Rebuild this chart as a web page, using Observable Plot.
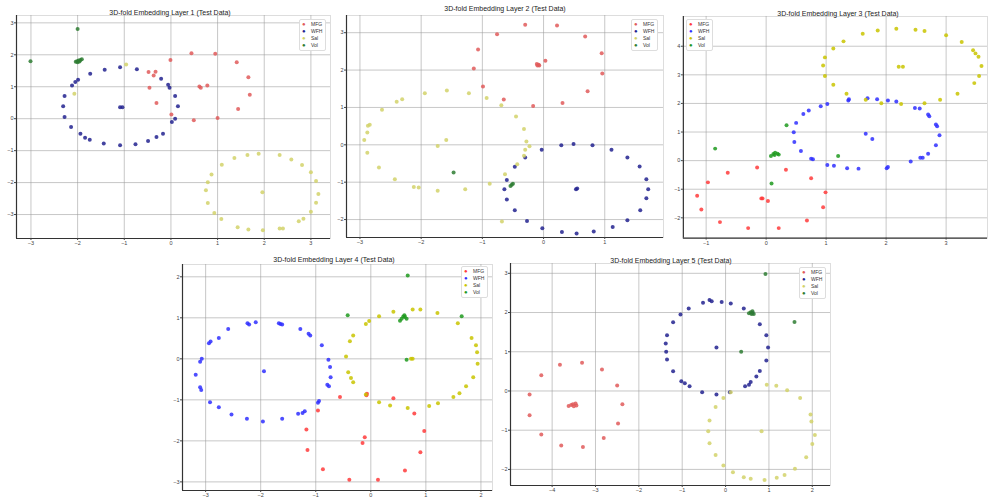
<!DOCTYPE html>
<html><head><meta charset="utf-8">
<script src="https://cdn.jsdelivr.net/npm/d3@7"></script>
<script src="https://cdn.jsdelivr.net/npm/@observablehq/plot@0.6"></script>
<style>
body{margin:0;background:#fff;width:989px;height:498px;overflow:hidden;position:relative;font-family:"Liberation Sans",Arial,sans-serif}
.panel{position:absolute}
.title{position:absolute;font-size:7px;color:#222;white-space:nowrap;transform:translate(-50%,-50%)}
.legend{position:absolute;background:#fff;border:1px solid #ddd;border-radius:2px;font-size:5px;padding:1px 3px 1px 2px;line-height:7px;color:#333}
.legend span{display:inline-block;width:9px;font-size:6px}
</style></head><body>
<script>
const classes = ["MFG","WFH","Sal","Vol"];
const titles = [
  "3D-fold Embedding Layer 1 (Test Data)",
  "3D-fold Embedding Layer 2 (Test Data)",
  "3D-fold Embedding Layer 3 (Test Data)",
  "3D-fold Embedding Layer 4 (Test Data)",
  "3D-fold Embedding Layer 5 (Test Data)"
];

// Panel 1
const p1Red = [[-0.01,1.84],[0.44,2.05],[0.95,2.03],[1.41,1.77],[1.66,1.30],[1.69,0.75],[1.44,0.30],[1.00,0.02],[0.49,-0.05],[-0.31,0.49],[-0.46,0.97],[0.61,1.01],[0.64,0.97],[0.78,1.04],[0.01,0.13],[-0.48,1.46],[-0.37,1.35],[-0.33,1.47]];
const p1Blue = [[-2.12,1.04],[-2.05,1.15],[-1.99,1.22],[-1.73,1.41],[-1.42,1.53],[-1.09,1.61],[-0.73,1.55],[-0.21,1.25],[-0.06,1.06],[-0.03,0.97],[0.09,0.71],[0.15,0.39],[0.09,0.0],[0.02,-0.10],[-0.17,-0.47],[-0.31,-0.57],[-0.49,-0.70],[-0.76,-0.80],[-1.09,-0.83],[-1.44,-0.78],[-1.74,-0.66],[-1.84,-0.60],[-1.94,-0.47],[-2.14,-0.26],[-2.28,0.05],[-2.31,0.39],[-2.28,0.71],[-1.09,0.36],[-1.04,0.36]];
const p1Yellow = [[-0.96,1.70],[-2.07,0.78],[1.36,-1.23],[1.64,-1.14],[1.88,-1.10],[2.33,-1.14],[2.58,-1.28],[2.81,-1.45],[3.0,-1.68],[3.11,-1.95],[3.16,-2.36],[3.11,-2.63],[3.0,-2.91],[2.84,-3.13],[2.74,-3.21],[2.4,-3.44],[2.33,-3.44],[1.97,-3.49],[1.66,-3.47],[1.43,-3.40],[1.08,-3.14],[0.93,-2.95],[0.79,-2.64],[0.75,-2.24],[0.79,-1.99],[0.87,-1.75],[1.09,-1.44],[1.96,-2.30]];
const p1Green = [[-2.01,1.80],[-1.98,1.82],[-1.94,1.84],[-1.91,1.86],[-2.0,1.77],[-1.96,1.79],[-2.04,1.78],[-2.0,2.81],[-3.01,1.80]];

// Panel 2
const p2Red = [[-0.30,3.21],[0.22,3.19],[0.68,2.90],[0.95,2.45],[0.96,1.91],[0.72,1.43],[0.31,1.12],[-0.17,1.04],[-0.65,1.21],[-0.99,1.56],[-1.14,2.04],[-1.07,2.55],[-0.76,2.96],[0.03,2.25],[-0.11,2.16],[-0.08,2.14],[-0.07,2.12],[-0.10,2.12]];
const p2Blue = [[-0.03,-0.13],[0.29,-0.01],[0.49,0.02],[0.80,-0.01],[1.11,-0.13],[1.37,-0.34],[1.57,-0.58],[1.68,-0.92],[1.71,-1.19],[1.68,-1.43],[1.58,-1.75],[1.37,-2.02],[1.13,-2.20],[0.82,-2.32],[0.54,-2.37],[0.30,-2.33],[-0.02,-2.23],[-0.27,-2.04],[-0.47,-1.75],[-0.60,-1.46],[-0.64,-1.19],[-0.60,-0.94],[-0.47,-0.59],[-0.30,-0.34],[0.53,-1.19],[0.55,-1.17]];
const p2Yellow = [[-1.94,1.38],[-1.58,1.45],[-1.22,1.38],[-0.93,1.25],[-0.69,1.06],[-0.45,0.76],[-0.32,0.42],[-0.28,0.09],[-0.30,-0.13],[-0.32,-0.29],[-0.43,-0.52],[-0.63,-0.79],[-0.88,-1.04],[-1.28,-1.19],[-1.73,-1.23],[-2.04,-1.14],[-2.12,-1.13],[-2.43,-0.92],[-2.69,-0.61],[-2.88,-0.21],[-2.93,0.13],[-2.88,0.33],[-2.87,0.51],[-2.84,0.54],[-2.64,0.94],[-2.40,1.15],[-2.31,1.22],[-1.73,-0.03],[-1.59,0.13],[-0.23,-0.04],[-0.68,-2.05]];
const p2Green = [[-0.50,-1.04],[-0.54,-1.10],[-0.52,-1.07],[-1.47,-0.74]];

// Panel 3
const p3Red = [[-0.15,-0.24],[-0.64,-0.42],[-0.97,-0.76],[-1.15,-1.23],[-1.08,-1.71],[-0.77,-2.15],[-0.30,-2.36],[0.21,-2.36],[0.68,-2.09],[0.95,-1.63],[0.99,-1.11],[0.75,-0.62],[0.33,-0.32],[-0.08,-1.32],[-0.06,-1.32],[0.03,-1.41]];
const p3Blue = [[0.91,1.90],[1.02,1.98],[0.71,1.75],[0.62,1.63],[0.50,1.32],[0.46,0.99],[0.47,0.65],[0.58,0.34],[0.75,0.07],[0.78,0.05],[1.02,-0.15],[1.13,-0.18],[1.35,-0.27],[1.54,-0.28],[2.01,-0.27],[2.03,-0.22],[2.41,-0.03],[2.57,0.10],[2.61,0.10],[2.70,0.24],[2.83,0.54],[2.89,0.89],[2.85,1.20],[2.83,1.26],[2.72,1.55],[2.70,1.61],[2.56,1.82],[2.48,1.84],[1.37,2.10],[1.38,2.15],[1.69,2.18],[1.85,2.15],[2.03,2.10],[2.17,2.07],[1.66,0.94],[1.77,0.76]];
const p3Yellow = [[1.29,4.17],[1.61,4.44],[1.86,4.55],[2.17,4.61],[2.49,4.58],[2.64,4.53],[3.0,4.38],[3.26,4.15],[3.45,3.86],[3.49,3.75],[3.54,3.63],[3.59,3.31],[3.55,2.96],[3.47,2.71],[3.19,2.34],[2.90,2.13],[2.64,2.01],[2.25,1.98],[1.92,2.01],[1.66,2.13],[1.34,2.34],[1.12,2.65],[0.98,2.96],[0.95,3.33],[0.98,3.61],[1.12,3.92],[2.21,3.28],[2.28,3.28]];
const p3Green = [[-0.85,0.42],[0.34,1.24],[1.20,0.16],[0.09,-0.80],[0.08,0.16],[0.12,0.23],[0.15,0.28],[0.19,0.24],[0.21,0.21],[0.14,0.20]];

// Panel 4
const p4Red = [[-0.56,-0.93],[-0.07,-0.85],[-0.08,-0.89],[0.41,-0.96],[-0.96,-1.26],[0.79,-1.33],[-1.17,-1.72],[0.97,-1.76],[-0.11,-1.91],[-0.15,-2.05],[-1.15,-2.22],[0.90,-2.28],[-0.87,-2.69],[0.62,-2.72],[-0.39,-2.95],[0.13,-2.95]];
const p4Blue = [[-2.24,0.87],[-2.21,0.84],[-2.09,0.89],[-1.67,0.87],[-1.64,0.85],[-1.61,0.84],[-1.28,0.73],[-1.13,0.61],[-1.10,0.57],[-0.89,0.33],[-0.77,-0.02],[-0.74,-0.20],[-0.73,-0.45],[-0.79,-0.63],[-0.76,-0.67],[-0.94,-1.03],[-0.96,-1.07],[-1.20,-1.28],[-1.24,-1.32],[-1.32,-1.34],[-1.61,-1.46],[-1.96,-1.53],[-2.25,-1.46],[-2.53,-1.36],[-2.76,-1.18],[-2.92,-1.06],[-3.08,-0.76],[-3.10,-0.69],[-3.18,-0.39],[-3.10,-0.07],[-3.07,0.0],[-2.94,0.38],[-2.91,0.42],[-2.76,0.51],[-2.59,0.73],[-1.94,-0.30]];
const p4Yellow = [[-0.09,0.85],[-0.03,0.92],[-0.32,0.57],[-0.38,0.43],[-0.45,0.06],[-0.41,-0.33],[-0.36,-0.47],[-0.32,-0.57],[-0.09,-0.87],[0.15,-1.06],[0.35,-1.14],[0.67,-1.20],[1.06,-1.15],[1.22,-1.08],[1.50,-0.93],[1.61,-0.84],[1.73,-0.67],[1.86,-0.45],[1.94,-0.12],[1.93,0.16],[1.91,0.33],[1.83,0.51],[1.58,0.87],[1.21,1.12],[0.90,1.20],[0.76,1.20],[0.41,1.15],[0.15,1.04],[0.73,0.0],[0.76,0.0]];
const p4Green = [[0.67,2.03],[-0.42,1.06],[1.65,1.04],[0.65,-0.02],[0.53,0.93],[0.56,0.98],[0.59,1.03],[0.62,1.02],[0.65,0.98],[0.61,1.06]];

// Panel 5
const p5Red = [[-3.82,0.67],[-3.31,0.72],[-2.85,0.55],[-2.50,0.14],[-2.38,-0.34],[-2.48,-0.83],[-2.81,-1.20],[-3.29,-1.43],[-3.79,-1.39],[-4.25,-1.11],[-4.52,-0.62],[-4.52,-0.09],[-4.25,0.40],[-3.62,-0.38],[-3.56,-0.36],[-3.52,-0.34],[-3.46,-0.32],[-3.44,-0.37],[-3.50,-0.39]];
const p5Blue = [[-0.52,2.25],[-0.37,2.32],[-0.32,2.29],[-0.09,2.27],[0.12,2.23],[0.42,2.10],[0.62,1.99],[0.79,1.70],[0.94,1.42],[0.98,1.11],[0.94,0.78],[0.79,0.51],[0.71,0.37],[0.58,0.23],[0.54,0.16],[0.45,0.12],[0.10,-0.03],[-0.21,-0.09],[-0.54,-0.03],[-0.83,0.12],[-0.94,0.20],[-1.02,0.25],[-1.21,0.50],[-1.35,0.80],[-1.37,1.0],[-1.38,1.21],[-1.35,1.42],[-1.21,1.75],[-1.04,1.95],[-0.85,2.10],[-0.21,1.11]];
const p5Yellow = [[0.95,0.16],[1.17,0.13],[1.42,0.02],[1.72,-0.18],[1.96,-0.60],[1.98,-0.78],[2.06,-1.12],[2.0,-1.35],[1.86,-1.69],[1.60,-1.98],[1.36,-2.14],[1.18,-2.21],[0.90,-2.27],[0.58,-2.24],[0.42,-2.20],[0.17,-2.07],[-0.05,-1.90],[-0.23,-1.63],[-0.37,-1.33],[-0.40,-1.03],[-0.37,-0.75],[-0.23,-0.41],[-0.05,-0.18],[0.12,-0.03],[0.83,-1.03]];
const p5Green = [[0.54,1.98],[0.58,2.01],[0.62,2.03],[0.65,1.96],[0.60,1.96],[0.92,2.98],[1.59,1.76],[0.36,1.0]];

// tick values
const p1XTicks = [-3,-2,-1,0,1,2,3], p1YTicks = [-3,-2,-1,0,1,2,3];
const p2XTicks = [-3,-2,-1,0,1], p2YTicks = [-2,-1,0,1,2,3];
const p3XTicks = [-1,0,1,2,3], p3YTicks = [-2,-1,0,1,2,3,4];
const p4XTicks = [-3,-2,-1,0,1,2], p4YTicks = [-3,-2,-1,0,1,2];
const p5XTicks = [-4,-3,-2,-1,0,1,2], p5YTicks = [-2,-1,0,1,2,3];

const brightColors = ["#ff3b3b","#2f2fff","#c9c400","#1f9a1f"];
const dimColors = ["#e05a5a","#22228f","#d2d26a","#2e7d32"];

const panels = [
  {series:[p1Red,p1Blue,p1Yellow,p1Green], xt:p1XTicks, yt:p1YTicks, x:[-3.31,3.42], y:[-3.75,3.23], frame:[16,330,15,238], colors:dimColors, title:[170,12], legend:[299,19]},
  {series:[p2Red,p2Blue,p2Yellow,p2Green], xt:p2XTicks, yt:p2YTicks, x:[-3.22,1.96], y:[-2.48,3.46], frame:[346,663,15,237], colors:dimColors, title:[505,8], legend:[631,19]},
  {series:[p3Red,p3Blue,p3Yellow,p3Green], xt:p3XTicks, yt:p3YTicks, x:[-1.38,3.69], y:[-2.71,5.04], frame:[683,989,16,239], colors:brightColors, title:[838,13], legend:[686,19]},
  {series:[p4Red,p4Blue,p4Yellow,p4Green], xt:p4XTicks, yt:p4YTicks, x:[-3.42,2.21], y:[-3.21,2.30], frame:[182,492,264,490], colors:brightColors, title:[334,259], legend:[461,266]},
  {series:[p5Red,p5Blue,p5Yellow,p5Green], xt:p5XTicks, yt:p5YTicks, x:[-4.96,2.42], y:[-2.41,3.25], frame:[510,830,263,485], colors:dimColors, title:[671,260], legend:[799,267]}
];

const fmt = d3.format("d");

panels.forEach((p, k) => {
  const [L,R,T,B] = p.frame;
  const mL = 24, mR = 2, mT = 2, mB = 12;
  const W = mL + (R - L) + mR, H = mT + (B - T) + mB;
  const rows = [];
  p.series.forEach((s, i) => s.forEach(([x, y]) => rows.push({x, y, c: classes[i]})));
  const svg = Plot.plot({
    width: W, height: H,
    marginLeft: mL, marginRight: mR, marginTop: mT, marginBottom: mB,
    style: {fontSize: "5.5px", fontFamily: "Liberation Sans, Arial, sans-serif", color: "#444", background: "transparent", overflow: "visible"},
    x: {domain: p.x, label: null},
    y: {domain: p.y, label: null},
    color: {domain: classes, range: p.colors},
    marks: [
      Plot.frame({stroke: "#ddd"}),
      Plot.gridX({ticks: p.xt, stroke: "#999", strokeOpacity: 0.55}),
      Plot.gridY({ticks: p.yt, stroke: "#999", strokeOpacity: 0.55}),
      Plot.ruleX([p.x[0]], {stroke: "#333", strokeWidth: 1.2}),
      Plot.ruleY([p.y[0]], {stroke: "#333", strokeWidth: 1.2}),
      Plot.axisX({ticks: p.xt, tickFormat: fmt, tickSize: 2, tickPadding: 1, label: null}),
      Plot.axisY({ticks: p.yt, tickFormat: fmt, tickSize: 2, tickPadding: 1, label: null}),
      Plot.dot(rows, {x: "x", y: "y", fill: "c", r: 2, fillOpacity: 0.85})
    ]
  });
  const div = document.createElement("div");
  div.className = "panel";
  div.style.left = (L - mL) + "px";
  div.style.top = (T - mT) + "px";
  div.appendChild(svg);
  document.body.appendChild(div);

  const t = document.createElement("div");
  t.className = "title";
  t.style.left = p.title[0] + "px";
  t.style.top = p.title[1] + "px";
  t.textContent = titles[k];
  document.body.appendChild(t);

  const lg = document.createElement("div");
  lg.className = "legend";
  lg.style.left = p.legend[0] + "px";
  lg.style.top = p.legend[1] + "px";
  lg.innerHTML = classes.map((c, i) => `<div><span style="color:${p.colors[i]}">●</span>${c}</div>`).join("");
  document.body.appendChild(lg);
});
</script>
</body></html>
